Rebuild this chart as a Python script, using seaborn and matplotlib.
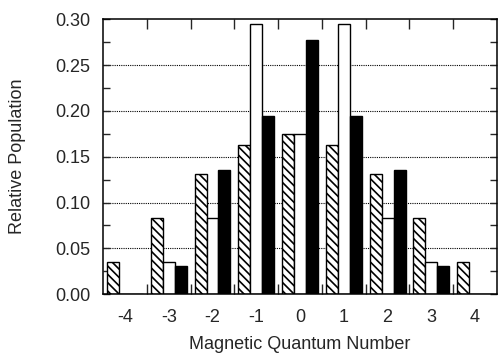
import numpy as np
import pandas as pd
import matplotlib
matplotlib.use("Agg")
import matplotlib.pyplot as plt
import seaborn as sns
from matplotlib.ticker import MultipleLocator, FixedLocator

# Values
m_values = [-4, -3, -2, -1, 0, 1, 2, 3, 4]
hatched_pop = [0.035, 0.083, 0.131, 0.163, 0.175, 0.163, 0.131, 0.083, 0.035]
open_pop = [0.0, 0.035, 0.083, 0.295, 0.175, 0.295, 0.083, 0.035, 0.0]
filled_pop = [0.0, 0.031, 0.135, 0.195, 0.277, 0.195, 0.135, 0.031, 0.0]
series_names = ["hatched", "open", "filled"]

df = pd.DataFrame({
    "m": [str(m) for m in m_values] * 3,
    "pop": hatched_pop + open_pop + filled_pop,
    "series": np.repeat(series_names, len(m_values)),
})

sns.set_style("ticks")
plt.rcParams["font.family"] = ["Liberation Sans", "DejaVu Sans"]
plt.rcParams["hatch.linewidth"] = 1.2

fig = plt.figure(figsize=(4.98, 3.53), dpi=100)
ax = fig.add_axes([0.207, 0.167, 0.791, 0.778])

sns.barplot(data=df, x="m", y="pop", hue="series", order=[str(m) for m in m_values],
            hue_order=series_names, palette=["white", "white", "black"],
            width=0.82, edgecolor="black", linewidth=1.0, legend=False, ax=ax)

for bar in ax.containers[0]:
    bar.set_hatch("\\\\\\\\")

ax.set_xlim(-0.5, len(m_values) - 0.5)
ax.set_ylim(0, 0.30)
ax.yaxis.set_major_locator(MultipleLocator(0.05))
ax.yaxis.set_minor_locator(MultipleLocator(0.025))
ax.set_yticklabels([f"{v:.2f}" for v in ax.get_yticks()])
ax.xaxis.set_minor_locator(FixedLocator(np.arange(0.5, len(m_values) - 1, 1.0)))

ax.set_axisbelow(True)
for y in np.arange(0.05, 0.26, 0.05):
    ax.axhline(y, color="black", linestyle=(0, (1, 1)), linewidth=0.8, zorder=0)

ax.tick_params(axis="x", which="major", length=0, pad=11, labelsize=13)
ax.tick_params(axis="x", which="minor", direction="in", length=7, width=1,
               top=True, bottom=True)
ax.tick_params(axis="y", which="major", direction="in", length=5, width=1,
               left=True, right=True, pad=9, labelsize=13)
ax.tick_params(axis="y", which="minor", direction="in", length=5, width=1,
               left=True, right=True)
for s in ax.spines.values():
    s.set_visible(True)
    s.set_linewidth(1.1)
    s.set_color("black")

ax.set_xlabel("Magnetic Quantum Number", fontsize=13, labelpad=7)
ax.set_ylabel("Relative Population", fontsize=13, labelpad=21)

fig.savefig("out.png", dpi=100)
